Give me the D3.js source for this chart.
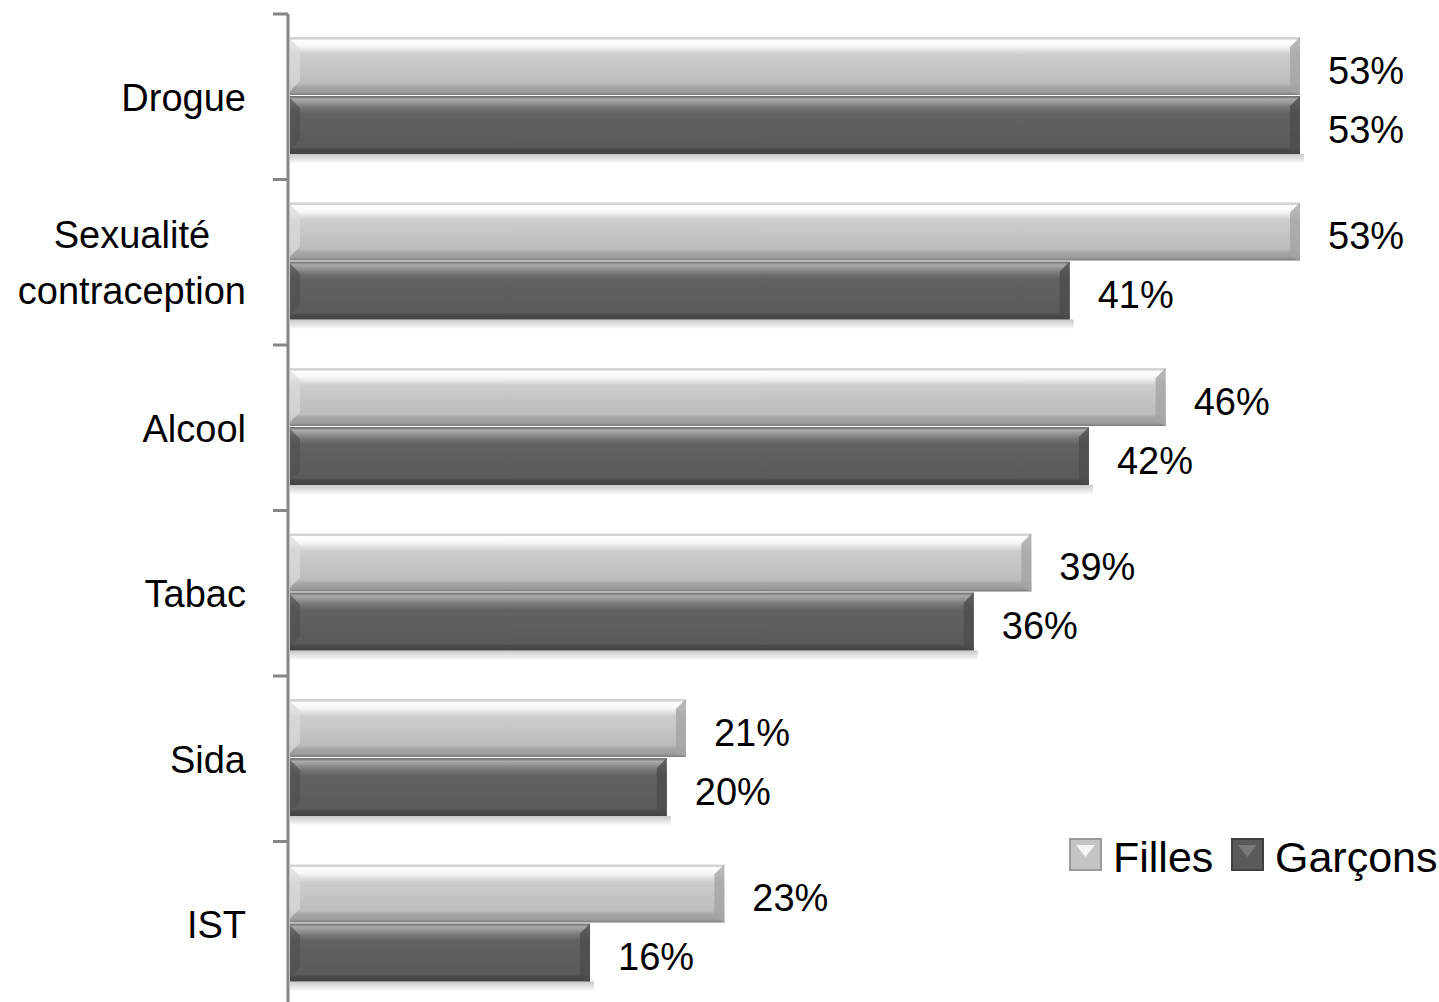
<!DOCTYPE html>
<html>
<head>
<meta charset="utf-8">
<script src="https://cdn.jsdelivr.net/npm/d3@7"></script>
<style>
  body { margin: 0; background: #fff; }
  svg text { font-family: "Liberation Sans", Arial, sans-serif; fill: #000; }
</style>
</head>
<body>
<div id="chart"></div>
<script>
// bar chart: prevention topics, filles vs garcons

var categories = ["Drogue", "Sexualité\ncontraception", "Alcool", "Tabac", "Sida", "IST"];
var series = ["Filles", "Garçons"];
var filles = [53, 53, 46, 39, 21, 23];
var garcons = [53, 41, 42, 36, 20, 16];

var width = 1439, height = 1002;

var svg = d3.select("#chart").append("svg")
    .attr("width", width)
    .attr("height", height);

var defs = svg.append("defs");

function addGrad(id, stops) {
    var g = defs.append("linearGradient")
        .attr("id", id)
        .attr("x1", 0).attr("y1", 0).attr("x2", 0).attr("y2", 1);
    stops.forEach(function(s) {
        g.append("stop").attr("offset", s[0]).attr("stop-color", s[1]);
    });
}
addGrad("gradLight", [
    [0, "#d4d4d4"], [0.04, "#d4d4d4"], [0.05, "#ffffff"], [0.16, "#f6f6f6"],
    [0.3, "#cdcdcd"], [0.8, "#bcbcbc"], [0.86, "#a6a6a6"], [0.95, "#9c9c9c"], [1, "#7a7a7a"]
]);
addGrad("gradDark", [
    [0, "#6a6a6a"], [0.06, "#aaaaaa"], [0.2, "#787878"], [0.3, "#626262"],
    [0.88, "#5a5a5a"], [0.92, "#4a4a4a"], [1, "#444444"]
]);
addGrad("gradShadow", [[0, "#c8c8c8"], [1, "#ffffff"]]);

var barStart = 290;
var x = d3.scaleLinear().domain([0, 53]).range([283, 1300]);
var y = d3.scaleBand().domain(categories).range([14, 14 + 6 * 165.5]);
var ySub = d3.scaleBand().domain(series).range([23, 141]);

var data = categories.map(function(c, i) {
    return { cat: c, vals: [
        { s: "Filles", v: filles[i] },
        { s: "Garçons", v: garcons[i] }
    ]};
});

// axis
svg.append("line")
    .attr("x1", 288).attr("x2", 288)
    .attr("y1", y.range()[0]).attr("y2", height)
    .attr("stroke", "#868686").attr("stroke-width", 3);

svg.selectAll(".tick").data(categories).enter().append("line")
    .attr("class", "tick")
    .attr("x1", 273).attr("x2", 288)
    .attr("y1", function(d) { return y(d); })
    .attr("y2", function(d) { return y(d); })
    .attr("stroke", "#868686").attr("stroke-width", 3);

// bars
var groups = svg.selectAll(".cat").data(data).enter().append("g")
    .attr("class", "cat")
    .attr("transform", function(d) { return "translate(0," + y(d.cat) + ")"; });

var bars = groups.selectAll(".bar").data(function(d) { return d.vals; }).enter().append("g")
    .attr("class", "bar");

// soft shadow under garcons bars
bars.filter(function(d) { return d.s === "Garçons"; }).append("rect")
    .attr("x", barStart)
    .attr("y", function(d) { return ySub(d.s) + ySub.bandwidth() - 1; })
    .attr("width", function(d) { return x(d.v) - barStart + 4; })
    .attr("height", 10)
    .attr("fill", "url(#gradShadow)");

bars.append("rect")
    .attr("x", barStart)
    .attr("y", function(d) { return ySub(d.s); })
    .attr("width", function(d) { return x(d.v) - barStart; })
    .attr("height", ySub.bandwidth() - 1)
    .attr("fill", function(d) { return d.s === "Filles" ? "url(#gradLight)" : "url(#gradDark)"; });

// right end bevel
bars.append("path")
    .attr("d", function(d) {
        var x1 = x(d.v), y0 = ySub(d.s), h = ySub.bandwidth() - 1;
        return "M" + (x1 - 10) + "," + (y0 + 10) + "L" + x1 + "," + y0 +
               "L" + x1 + "," + (y0 + h) + "L" + (x1 - 10) + "," + (y0 + h - 4) + "Z";
    })
    .attr("fill", function(d) { return d.s === "Filles" ? "#a4a4a4" : "#4c4c4c"; })
    .attr("opacity", 0.8);

// left end bevel
bars.append("path")
    .attr("d", function(d) {
        var y0 = ySub(d.s), h = ySub.bandwidth() - 1;
        return "M290," + (y0 + 2) + "L300," + (y0 + 12) + "L300," + (y0 + h - 14) + "L290," + (y0 + h - 4) + "Z";
    })
    .attr("fill", function(d) { return d.s === "Filles" ? "#dcdcdc" : "#505050"; })
    .attr("opacity", 0.7);

// value labels
bars.append("text")
    .attr("x", function(d) { return x(d.v) + 28; })
    .attr("y", function(d) { return ySub(d.s) + ySub.bandwidth() / 2 + 17; })
    .attr("font-size", 38)
    .text(function(d) { return d.v + "%"; });

// category labels (multi-line blocks are centred, block right-aligned)
groups.append("text")
    .attr("text-anchor", "middle")
    .attr("font-size", 38)
    .each(function(d) {
        var lines = d.cat.split("\n");
        var t = d3.select(this);
        var mid = y.bandwidth() / 2 + 14;
        var spans = lines.map(function(l, i) {
            return t.append("tspan")
                .attr("y", mid + (i - (lines.length - 1) / 2) * 56)
                .text(l);
        });
        var maxW = d3.max(spans, function(s) { return s.node().getComputedTextLength(); });
        spans.forEach(function(s) { s.attr("x", 246 - maxW / 2); });
    });

// legend
var legX = [1070, 1232];
var leg = svg.selectAll(".leg").data(series).enter().append("g")
    .attr("class", "leg")
    .attr("transform", function(d, i) { return "translate(" + legX[i] + ",839)"; });

leg.append("rect")
    .attr("width", 31).attr("height", 31)
    .attr("fill", function(d, i) { return i === 0 ? "#c4c4c4" : "#5a5a5a"; })
    .attr("stroke", function(d, i) { return i === 0 ? "#9a9a9a" : "#404040"; })
    .attr("stroke-width", 2);
leg.append("path")
    .attr("d", "M6,6L25,6L15.5,18Z")
    .attr("fill", function(d, i) { return i === 0 ? "#f4f4f4" : "#7a7a7a"; });

leg.append("text")
    .attr("x", 43)
    .attr("y", 33)
    .attr("font-size", 43)
    .text(function(d) { return d; });
</script>
</body>
</html>
